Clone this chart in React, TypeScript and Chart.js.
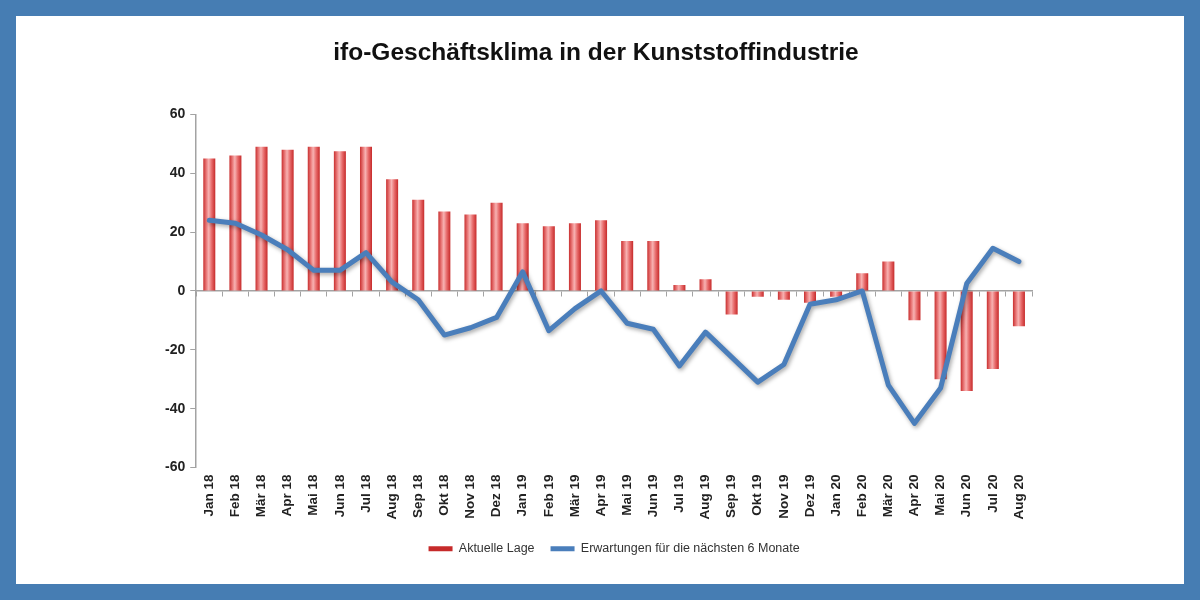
import React, { useEffect, useRef } from "react";
import { Chart, registerables } from "chart.js";

Chart.register(...registerables);

const TITLE = "ifo-Geschäftsklima in der Kunststoffindustrie";

const months: string[] = [
  "Jan 18", "Feb 18", "Mär 18", "Apr 18", "Mai 18", "Jun 18", "Jul 18", "Aug 18",
  "Sep 18", "Okt 18", "Nov 18", "Dez 18", "Jan 19", "Feb 19", "Mär 19", "Apr 19",
  "Mai 19", "Jun 19", "Jul 19", "Aug 19", "Sep 19", "Okt 19", "Nov 19", "Dez 19",
  "Jan 20", "Feb 20", "Mär 20", "Apr 20", "Mai 20", "Jun 20", "Jul 20", "Aug 20",
];

const aktuelleLage: number[] = [
  45, 46, 49, 48, 49, 47.5, 49, 38,
  31, 27, 26, 30, 23, 22, 23, 24,
  17, 17, 2, 4, -8, -2, -3, -4,
  -2, 6, 10, -10, -30, -34, -26.5, -12,
];

const erwartungen: number[] = [
  24, 23, 19, 14, 7, 7, 13, 3,
  -3, -15, -12.5, -9, 6.5, -13.5, -6, 0,
  -11, -13, -25.5, -14, -22.5, -31, -25, -4.5,
  -3, 0, -32, -45, -33, 2.5, 14.5, 10,
];

const yTicks = { min: -60, max: 60, step: 20 };

const FONT = "'Liberation Sans', Arial, Helvetica, sans-serif";
const BAR_RED = "#e05858";
const LINE_BLUE = "#4a7ebb";
const AXIS_GRAY = "#a3a3a3";

const shadowPlugin = {
  id: "lineShadow",
  beforeDatasetDraw(chart: any, args: any) {
    if (args.meta.type === "line") {
      const ctx = chart.ctx;
      ctx.save();
      ctx.shadowColor = "rgba(0,0,0,0.35)";
      ctx.shadowBlur = 4;
      ctx.shadowOffsetX = 1.5;
      ctx.shadowOffsetY = 2;
    }
  },
  afterDatasetDraw(chart: any, args: any) {
    if (args.meta.type === "line") chart.ctx.restore();
  },
};

export default function App() {
  const canvasRef = useRef<HTMLCanvasElement | null>(null);

  useEffect(() => {
    if (!canvasRef.current) return;
    Chart.defaults.font.family = FONT;
    const barPct = 0.46;
    const defaultLabels = (Chart.defaults as any).plugins.legend.labels.generateLabels;
    const chart = new Chart(canvasRef.current, {
      type: "bar",
      data: {
        labels: months,
        datasets: [
          {
            type: "bar",
            label: "Aktuelle Lage",
            data: aktuelleLage,
            order: 2,
            barPercentage: barPct,
            categoryPercentage: 1,
            borderWidth: 0,
            backgroundColor: (c: any) => {
              const ch = c.chart;
              const xs = ch.scales && ch.scales.x;
              if (c.type !== "data" || !xs || !ch.chartArea) return BAR_RED;
              const x = xs.getPixelForValue(c.dataIndex);
              const w = (xs.width / months.length) * barPct;
              const g = ch.ctx.createLinearGradient(x - w / 2, 0, x + w / 2, 0);
              g.addColorStop(0, "#c92f2f");
              g.addColorStop(0.3, "#ee8686");
              g.addColorStop(0.45, "#f7b2b2");
              g.addColorStop(0.7, "#e76a6a");
              g.addColorStop(1, "#c62a2a");
              return g;
            },
          } as any,
          {
            type: "line",
            label: "Erwartungen für die nächsten 6 Monate",
            data: erwartungen,
            order: 1,
            borderColor: LINE_BLUE,
            backgroundColor: LINE_BLUE,
            borderWidth: 5,
            pointRadius: 0,
            pointHoverRadius: 0,
            tension: 0,
            borderJoinStyle: "round",
            borderCapStyle: "round",
            fill: false,
          } as any,
        ],
      },
      options: {
        responsive: false,
        animation: false,
        layout: { padding: { left: 144, right: 152, top: 0, bottom: 19 } },
        plugins: {
          title: {
            display: true,
            text: TITLE,
            color: "#111111",
            font: { family: FONT, size: 24.5, weight: "bold" },
            padding: { top: 23, bottom: 46 },
          },
          legend: {
            position: "bottom",
            fullSize: false,
            labels: {
              color: "#333333",
              font: { family: FONT, size: 12.5 },
              boxWidth: 24,
              boxHeight: 5,
              padding: 16,
              sort: (a: any, b: any) => a.datasetIndex - b.datasetIndex,
              generateLabels: (ch: any) =>
                defaultLabels(ch).map((l: any) => ({ ...l, lineWidth: 0 })),
            },
          },
          tooltip: { enabled: false },
        },
        scales: {
          x: {
            type: "category",
            offset: true,
            grid: { display: false, drawTicks: false },
            border: { display: false },
            ticks: {
              autoSkip: false,
              minRotation: 90,
              maxRotation: 90,
              padding: 7,
              color: "#222222",
              font: { family: FONT, size: 13.5, weight: "bold" },
            },
          },
          x2: {
            type: "category",
            axis: "x",
            position: { y: 0 },
            offset: true,
            grid: {
              offset: true,
              drawOnChartArea: false,
              drawTicks: true,
              tickLength: 5,
              color: AXIS_GRAY,
            },
            border: { display: true, color: AXIS_GRAY, width: 1.5 },
            ticks: { display: false },
          } as any,
          y: {
            min: yTicks.min,
            max: yTicks.max,
            grid: {
              drawOnChartArea: false,
              drawTicks: true,
              tickLength: 6,
              color: AXIS_GRAY,
            },
            border: { display: true, color: AXIS_GRAY, width: 1.5 },
            ticks: {
              stepSize: yTicks.step,
              padding: 5,
              color: "#222222",
              font: { family: FONT, size: 14, weight: "bold" },
            },
          },
        },
      } as any,
      plugins: [shadowPlugin],
    });
    return () => chart.destroy();
  }, []);

  return (
    <div
      style={{
        position: "fixed",
        left: 0,
        top: 0,
        width: 1200,
        height: 600,
        background: "#467db3",
      }}
    >
      <div
        style={{
          position: "absolute",
          left: 16,
          top: 16,
          width: 1168,
          height: 568,
          background: "#ffffff",
        }}
      >
        <canvas ref={canvasRef} width={1168} height={568} style={{ display: "block" }} />
      </div>
    </div>
  );
}
